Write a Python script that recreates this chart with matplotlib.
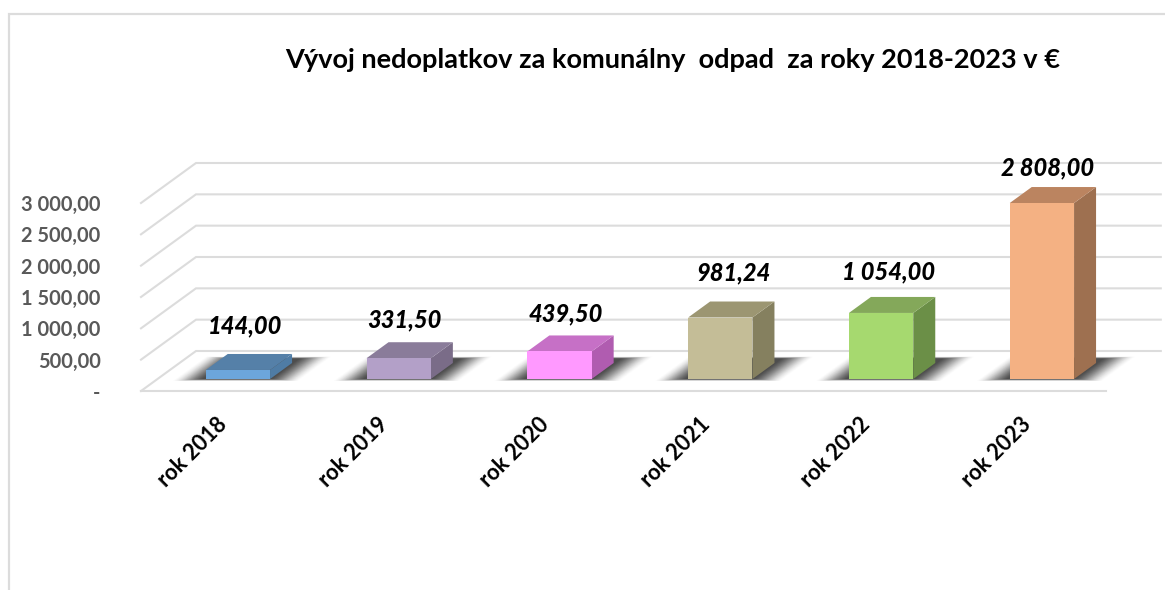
'''Vyvoj nedoplatkov - 3D look column chart drawn with an oblique projection.'''
import matplotlib
matplotlib.use("Agg")
import matplotlib.pyplot as plt
from matplotlib.patches import Polygon
from matplotlib.transforms import ScaledTranslation

plt.rcParams['font.family'] = ['Lato', 'DejaVu Sans']

years = ["rok 2018", "rok 2019", "rok 2020", "rok 2021", "rok 2022", "rok 2023"]
values = [144.00, 331.50, 439.50, 981.24, 1054.00, 2808.00]
value_labels = ["144,00", "331,50", "439,50", "981,24", "1 054,00", "2 808,00"]
y_ticks = [0, 500, 1000, 1500, 2000, 2500, 3000]
y_tick_labels = ["-", "500,00", "1 000,00", "1 500,00", "2 000,00", "2 500,00", "3 000,00"]
title = "Vývoj nedoplatkov za komunálny  odpad  za roky 2018-2023 v €"

front_colors = ["#6CA6DC", "#B3A0C8", "#FF99FF", "#C4BD97", "#A6D96F", "#F4B183"]
top_colors = ["#5580A8", "#8A7C9A", "#C670C6", "#9C9672", "#84A85A", "#BB8460"]
side_colors = ["#4F7CA5", "#7A6C88", "#B05CB0", "#85805F", "#6B8F47", "#9E7050"]

W, H = 1165, 590
GRID = "#dcdcdc"

fig = plt.figure(figsize=(W / 100, H / 100), dpi=100, facecolor="white")
ax = fig.add_axes([141 / W, (H - 391) / H, 964.8 / W, 188 / H])
ax.set_xlim(-0.5, 5.5)
ax.set_ylim(0, 3000)
ax.patch.set_visible(False)
for s in ax.spines.values():
    s.set_visible(False)

# depth of the box, in data units (55 px right, 40 px up at d=1)
DX = 55 / 160.8
DY = 40 / 188 * 3000
BAR_W = 0.4
D0, D1 = 0.3, 0.7


def proj(x, y, d):
    return (x + DX * d, y + DY * d)


# walls and floor
for v in y_ticks:
    ax.plot(*zip(proj(-0.5, v, 0), proj(-0.5, v, 1), proj(5.5, v, 1)),
            color=GRID, lw=1.5, clip_on=False, zorder=1, solid_joinstyle="miter")
ax.plot(*zip(proj(-0.5, 0, 0), proj(5.5, 0, 0)), color=GRID, lw=1.5, clip_on=False, zorder=1)

# soft shadows on the floor, built up from stacked polygons, faint outside
n_layers = 30
for i in range(len(values)):
    xl, xr = i - BAR_W / 2, i + BAR_W / 2
    for k in range(n_layers):
        f = k / (n_layers - 1)
        x0 = xl - 0.19 + 0.17 * f
        x1 = xr + 0.19 - 0.18 * f
        d_bot = 0.25 + 0.05 * f
        d_top = 0.86 - 0.05 * f
        pts = [proj(x0, 0, d_bot), proj(x1, 0, d_bot), proj(x1, 0, d_top), proj(x0, 0, d_top)]
        ax.add_patch(Polygon(pts, closed=True, fc="#2b2b2b", ec="none", alpha=0.008 + 0.09 * f,
                             clip_on=False, zorder=2))

# the boxes
for i, v in enumerate(values):
    xl, xr = i - BAR_W / 2, i + BAR_W / 2
    ax.add_patch(Polygon([proj(xr, 0, D0), proj(xr, 0, D1), proj(xr, v, D1), proj(xr, v, D0)],
                         closed=True, fc=side_colors[i], ec="none", clip_on=False, zorder=3))
    ax.add_patch(Polygon([proj(xl, v, D0), proj(xr, v, D0), proj(xr, v, D1), proj(xl, v, D1)],
                         closed=True, fc=top_colors[i], ec="none", clip_on=False, zorder=3))
    ax.bar(i + DX * D0, v, bottom=DY * D0, width=BAR_W, color=front_colors[i],
           clip_on=False, zorder=4)

# labels were placed by hand in the original, so the offsets differ a bit
label_dx = [7, 6, 6, 13, 7, 6]
label_dy = [44, 38, 38, 45, 41, 35]
for i, v in enumerate(values):
    x, y = proj(i, v, D0)
    ax.annotate(value_labels[i], (x, y), xytext=(label_dx[i] * 0.72, label_dy[i] * 0.72),
                textcoords="offset points", ha="center", va="center", fontsize=17,
                fontweight="black", fontstyle="italic", color="black", zorder=6,
                annotation_clip=False)

ax.set_xlim(-0.5, 5.5)
ax.set_ylim(0, 3000)
ax.set_yticks(y_ticks)
ax.set_yticklabels(y_tick_labels, fontsize=14.4, fontweight="bold", color="#595959")
ax.tick_params(axis="y", length=0, pad=29)
ax.set_xticks(range(len(years)))
ax.set_xticklabels(years, fontsize=15.7, fontweight="bold", color="black", rotation=45,
                   ha="right", va="top", rotation_mode="anchor")
ax.tick_params(axis="x", length=0, pad=16.5)
shift = ScaledTranslation(-5 / 100, 0, fig.dpi_scale_trans)
for lab in ax.get_xticklabels():
    lab.set_transform(lab.get_transform() + shift)

fig.text(673 / W, 1 - 60 / H, title, ha="center", va="center", fontsize=19.5,
         fontweight="bold", color="black")

# chart area frame, only top and left are visible in the crop
fig.add_artist(plt.Line2D([9 / W, 9 / W, 1], [0, 1 - 13.5 / H, 1 - 13.5 / H],
                          color=GRID, lw=1.6, solid_joinstyle="miter"))

fig.savefig("out.png", dpi=100)
